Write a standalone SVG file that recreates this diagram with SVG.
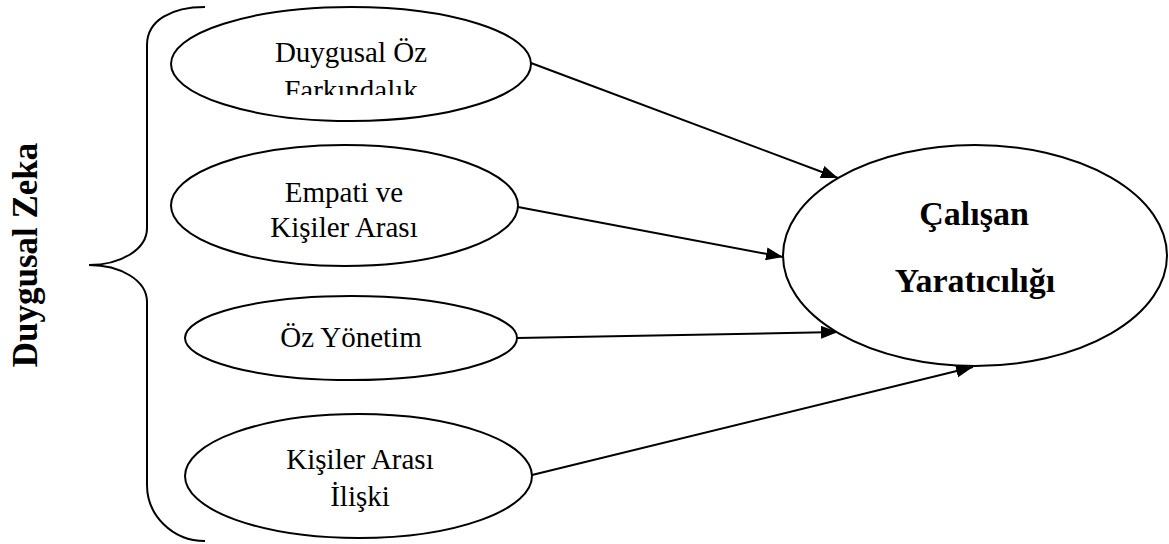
<svg xmlns="http://www.w3.org/2000/svg" width="1169" height="544" viewBox="0 0 1169 544">
  <style>
    .node ellipse { fill: #ffffff; stroke: #000000; stroke-width: 2; }
    .lbl { font-family: "Liberation Serif", "Times New Roman", serif; font-size: 29px; fill: #000000; text-anchor: middle; }
    .big { font-family: "Liberation Serif", "Times New Roman", serif; font-size: 34px; font-weight: bold; fill: #000000; text-anchor: middle; }
    .side { font-family: "Liberation Serif", "Times New Roman", serif; font-size: 35px; font-weight: bold; fill: #000000; text-anchor: middle; }
    .conn line { stroke: #000000; stroke-width: 2; fill: none; }
    .brace { fill: none; stroke: #000000; stroke-width: 2; }
  </style>
  <defs>
    <marker id="ah" markerWidth="17" markerHeight="13" refX="17" refY="6.5" orient="auto" markerUnits="userSpaceOnUse">
      <path d="M0,0 L17,6.5 L0,13 Z" fill="#000000"/>
    </marker>
    <clipPath id="clip1">
      <rect x="150" y="0" width="400" height="95"/>
    </clipPath>
  </defs>
  <rect width="1169" height="544" fill="#ffffff"/>

  <g id="brace">
    <path class="brace" d="M205,7 C172,7 147,20 147,45 L147,228 C147,250 120,265 89,265 C120,265 147,280 147,302 L147,485 C147,515 172,541 205,541"/>
    <text class="side" transform="translate(37,255) rotate(-90)">Duygusal Zeka</text>
  </g>

  <g id="connectors" class="conn">
    <line x1="531" y1="63" x2="838" y2="178" marker-end="url(#ah)"/>
    <line x1="518" y1="207" x2="783" y2="257" marker-end="url(#ah)"/>
    <line x1="517" y1="338" x2="838" y2="332" marker-end="url(#ah)"/>
    <line x1="532" y1="475" x2="973" y2="367" marker-end="url(#ah)"/>
  </g>

  <g id="node1" class="node">
    <ellipse cx="351" cy="64" rx="180" ry="57"/>
    <text class="lbl" x="351" y="62">Duygusal Öz</text>
    <text class="lbl" x="351" y="100" clip-path="url(#clip1)">Farkındalık</text>
  </g>

  <g id="node2" class="node">
    <ellipse cx="344.5" cy="205.5" rx="173.5" ry="60.5"/>
    <text class="lbl" x="344" y="202">Empati ve</text>
    <text class="lbl" x="344" y="237">Kişiler Arası</text>
  </g>

  <g id="node3" class="node">
    <ellipse cx="351" cy="338" rx="166" ry="42"/>
    <text class="lbl" x="351" y="347">Öz Yönetim</text>
  </g>

  <g id="node4" class="node">
    <ellipse cx="358.5" cy="476" rx="173.5" ry="62"/>
    <text class="lbl" x="360" y="469">Kişiler Arası</text>
    <text class="lbl" x="360" y="506">İlişki</text>
  </g>

  <g id="node5" class="node">
    <ellipse cx="975" cy="255.5" rx="192" ry="110.5"/>
    <text class="big" x="974" y="225">Çalışan</text>
    <text class="big" x="975" y="292">Yaratıcılığı</text>
  </g>
</svg>
